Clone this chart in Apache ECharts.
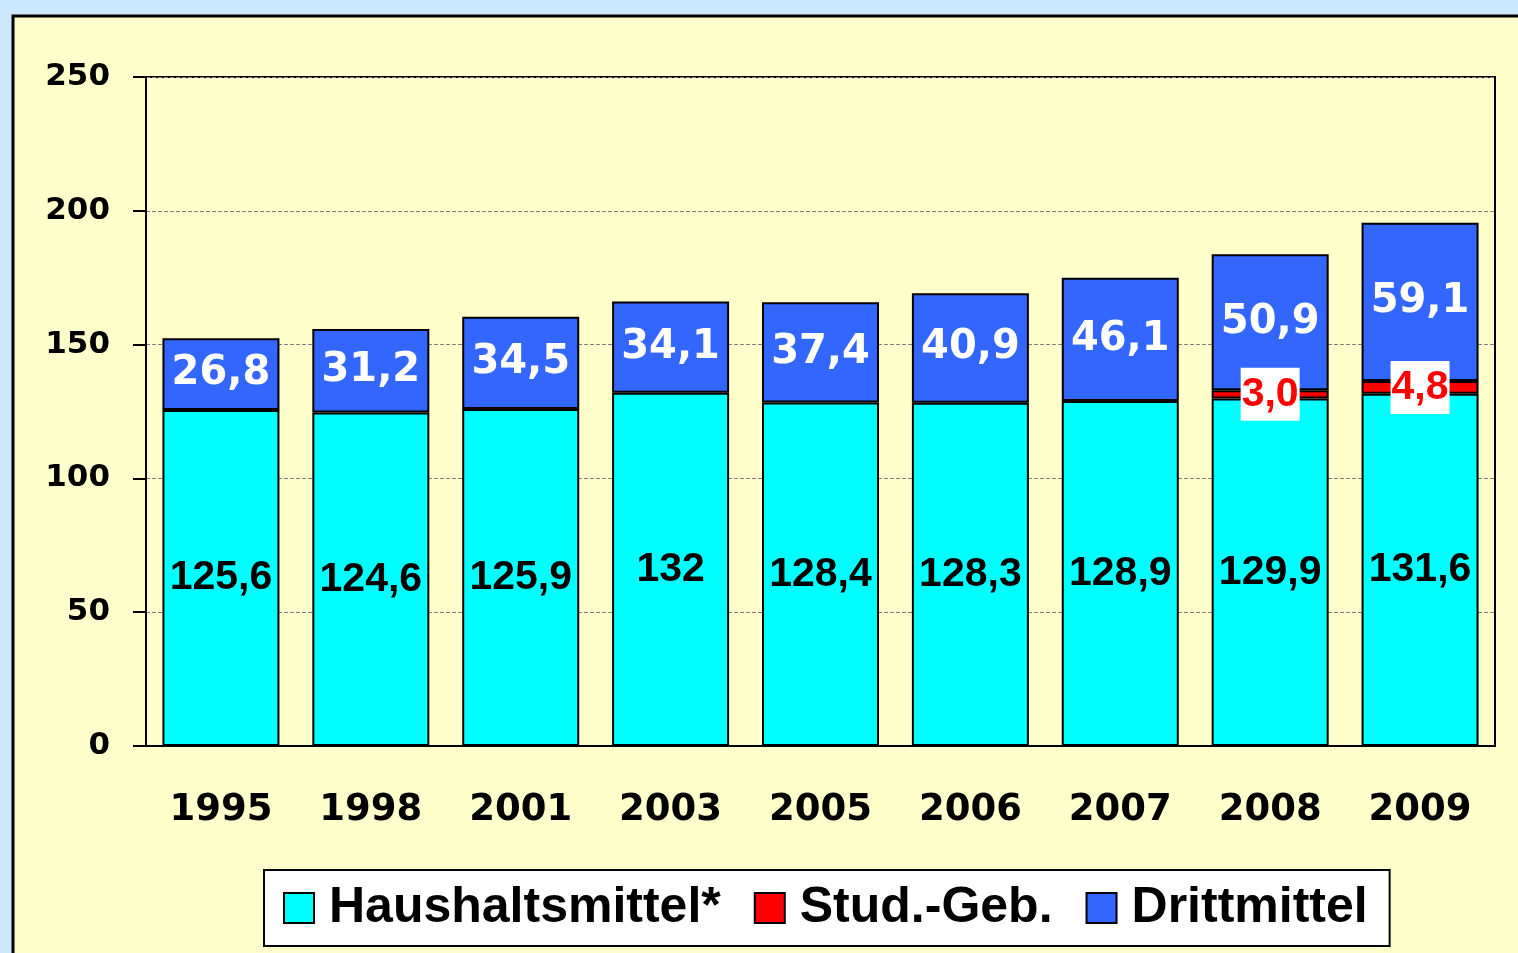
<!DOCTYPE html>
<html lang="de">
<head>
    <meta charset="UTF-8">
    <title>Haushaltsmittel, Stud.-Geb., Drittmittel</title>
    <script src="https://cdn.jsdelivr.net/npm/echarts@6/dist/echarts.min.js"></script>
    <style type="text/css">
        html, body { margin: 0; padding: 0; background: #cce8ff; }
        #main { width: 1518px; height: 953px; }
    </style>
</head>
<body>
<div id="main"></div>
<script type="text/javascript">
    var years = ['1995', '1998', '2001', '2003', '2005', '2006', '2007', '2008', '2009'];
    var haushalt = [125.6, 124.6, 125.9, 132, 128.4, 128.3, 128.9, 129.9, 131.6];
    var studGeb = ['-', '-', '-', '-', '-', '-', '-', 3.0, 4.8];
    var dritt = [26.8, 31.2, 34.5, 34.1, 37.4, 40.9, 46.1, 50.9, 59.1];

    var chart = echarts.init(document.getElementById('main'));

    // Komma als Dezimaltrenner
    function fmt(p, digits) {
        if (typeof p.value !== 'number') return '';
        var v = digits ? p.value.toFixed(digits) : String(p.value);
        return v.replace('.', ',');
    }

    var option = {
        backgroundColor: '#cce8ff',
        animation: false,
        graphic: [{
            type: 'rect',
            z: -10,
            shape: { x: 13, y: 16, width: 1520, height: 960 },
            style: { fill: '#ffffcc', stroke: '#000', lineWidth: 3 }
        }],
        grid: {
            left: 146, right: 23, top: 77, bottom: 207,
            show: true,
            backgroundColor: '#ffffcc',
            borderColor: '#000',
            borderWidth: 2
        },
        legend: {
            left: 264, top: 870,
            padding: [13, 22, 13, 19],
            backgroundColor: '#fff',
            borderColor: '#000',
            borderWidth: 2,
            itemWidth: 30, itemHeight: 30, itemGap: 33,
            icon: 'rect',
            itemStyle: { borderColor: '#000', borderWidth: 2 },
            textStyle: { fontFamily: 'Liberation Sans', fontWeight: 'bold', fontSize: 50, color: '#000', padding: [0, 0, 0, 10] },
            data: ['Haushaltsmittel*', 'Stud.-Geb.', 'Drittmittel']
        },
        xAxis: {
            type: 'category',
            data: years,
            axisLine: { lineStyle: { color: '#000', width: 2 } },
            axisTick: { show: false },
            axisLabel: { margin: 46, color: '#000', fontFamily: 'DejaVu Sans', fontWeight: 'bold', fontSize: 37 }
        },
        yAxis: {
            type: 'value',
            min: 0, max: 250, interval: 50,
            axisLine: { show: true, lineStyle: { color: '#000', width: 2 } },
            axisTick: { show: true, length: 13, lineStyle: { color: '#000', width: 2 } },
            axisLabel: { margin: 36, color: '#000', fontFamily: 'DejaVu Sans', fontWeight: 'bold', fontSize: 31 },
            splitLine: { lineStyle: { color: '#808080', width: 1, type: 'dashed' } }
        },
        series: [{
            name: 'Haushaltsmittel*',
            type: 'bar',
            stack: 'a',
            barWidth: 117,
            data: haushalt,
            itemStyle: { color: '#00ffff', borderColor: '#000', borderWidth: 2 },
            label: {
                show: true, position: 'inside', color: '#000',
                fontFamily: 'Liberation Sans', fontWeight: 'bold', fontSize: 41,
                formatter: function (p) { return fmt(p, 0); }
            }
        }, {
            name: 'Stud.-Geb.',
            type: 'bar',
            stack: 'a',
            data: studGeb,
            itemStyle: { color: '#ff0000', borderColor: '#000', borderWidth: 2 },
            label: {
                show: true, position: 'inside', color: '#ff0000',
                backgroundColor: '#fff', padding: [7, 1, 5, 1],
                fontFamily: 'Liberation Sans', fontWeight: 'bold', fontSize: 41,
                formatter: function (p) { return fmt(p, 1); }
            }
        }, {
            name: 'Drittmittel',
            type: 'bar',
            stack: 'a',
            data: dritt,
            itemStyle: { color: '#3366ff', borderColor: '#000', borderWidth: 2 },
            label: {
                show: true, position: 'inside', color: '#fff',
                fontFamily: 'DejaVu Sans', fontWeight: 'bold', fontSize: 40,
                formatter: function (p) { return fmt(p, 1); }
            }
        }]
    };
    chart.setOption(option);
</script>
</body>
</html>
